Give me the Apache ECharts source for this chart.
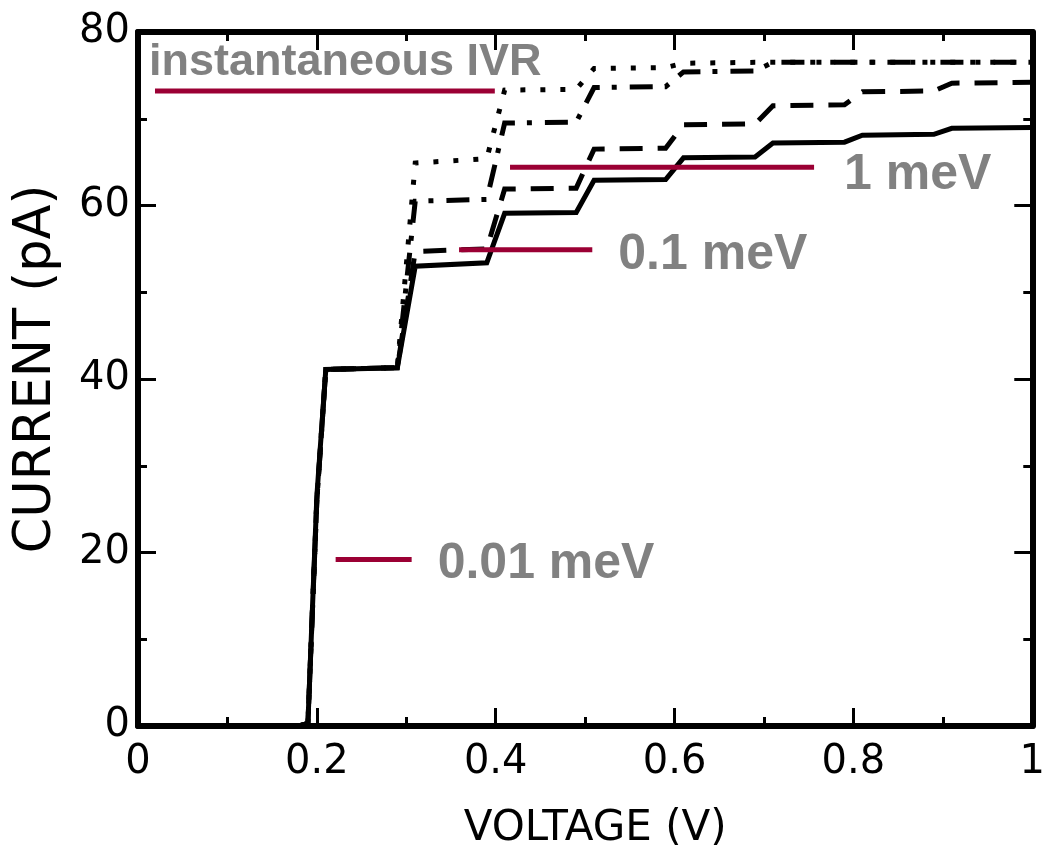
<!DOCTYPE html>
<html>
<head>
<meta charset="utf-8">
<script src="https://cdn.jsdelivr.net/npm/echarts@6/dist/echarts.min.js"></script>
<style>
html,body{margin:0;padding:0;background:#fff;overflow:hidden;}
#chart{width:1048px;height:855px;}
</style>
</head>
<body>
<div id="chart"></div>
<script>
// ---- data ----
const voltage = [0, 0.18, 0.19, 0.20, 0.21, 0.29, 0.31, 0.39, 0.41, 0.49, 0.51, 0.59, 0.61, 0.69, 0.71, 0.79, 0.81, 0.89, 0.91, 1.00];
const current001meV = [0, 0, 0.3, 26.5, 41.1, 41.3, 53.0, 53.4, 59.1, 59.2, 62.9, 63.0, 65.5, 65.6, 67.2, 67.3, 68.1, 68.2, 68.9, 69.0];
const current01meV  = [0, 0, 0.3, 26.0, 41.1, 41.3, 54.7, 55.0, 61.9, 62.0, 66.5, 66.6, 69.3, 69.4, 71.5, 71.6, 73.1, 73.2, 74.1, 74.2];
const current1meV   = [0, 0, 0.3, 26.0, 41.1, 41.3, 60.5, 60.7, 69.5, 69.6, 73.6, 73.7, 75.4, 75.5, 76.5, 76.5, 76.5, 76.5, 76.5, 76.5];
const currentIVR    = [0, 0, 0.3, 26.0, 41.1, 41.3, 64.9, 65.4, 73.3, 73.4, 75.8, 75.9, 76.4, 76.5, 76.5, 76.5, 76.5, 76.5, 76.5, 76.5];

const annotLabels = ['instantaneous IVR', '1 meV', '0.1 meV', '0.01 meV'];
const annotXStart = [0.019, 0.416, 0.359, 0.221];
const annotXEnd   = [0.399, 0.756, 0.508, 0.306];
const annotY      = [73.2, 64.4, 54.9, 19.2];

const xTicks = [0, 0.2, 0.4, 0.6, 0.8, 1];
const yTicks = [0, 20, 40, 60, 80];

// ---- chart ----
const pair = (xs, ys) => xs.map((x, i) => [x, ys[i]]);
const BLACK = '#000';
const RED = '#9b0034';
const GREY = '#616161';
const W = 5;

const curves = [
  { name: '0.01 meV', y: current001meV, type: 'solid' },
  { name: '0.1 meV', y: current01meV, type: [23, 15] },
  { name: '1 meV', y: current1meV, type: [23, 12, 5, 13] },
  { name: 'instantaneous IVR', y: currentIVR, type: [5, 15] }
];

const series = curves.map(c => ({
  name: c.name,
  type: 'line',
  xAxisIndex: 0, yAxisIndex: 0,
  data: pair(voltage, c.y),
  symbol: 'none',
  lineStyle: { color: BLACK, width: W, type: c.type, join: 'miter' },
  z: 3,
  animation: false
}));

annotLabels.forEach((lab, i) => {
  series.push({
    type: 'line',
    data: [[annotXStart[i], annotY[i]], [annotXEnd[i], annotY[i]]],
    symbol: 'none',
    lineStyle: { color: RED, width: 5 },
    z: 5,
    animation: false
  });
  const isTop = i === 0;
  series.push({
    type: 'scatter',
    data: [[isTop ? annotXStart[i] : annotXEnd[i], annotY[i]]],
    symbolSize: 0,
    itemStyle: { color: 'transparent' },
    label: {
      show: true,
      formatter: lab,
      position: 'right',
      distance: isTop ? 0 : (i === 1 ? 30 : 26),
      offset: isTop ? [-6, -28] : [0, i === 1 ? 8 : 5],
      color: GREY,
      fontFamily: 'Liberation Sans, Arial, sans-serif',
      fontWeight: 'bold',
      fontSize: isTop ? 45 : 50
    },
    z: 6,
    silent: true,
    animation: false
  });
});

const tickStyle = { show: true, inside: true, length: 18, lineStyle: { color: BLACK, width: 3 } };
const minorStyle = { show: true, splitNumber: 2, length: 9, lineStyle: { color: BLACK, width: 3 } };
const lineStyle = { show: true, onZero: false, lineStyle: { color: BLACK, width: 6 } };
const tickFont = { color: BLACK, fontFamily: 'DejaVu Sans', fontSize: 40 };

const option = {
  backgroundColor: '#fff',
  animation: false,
  grid: { left: 138, right: 10, top: 32, bottom: 128, containLabel: false },
  xAxis: [
    {
      type: 'value', position: 'bottom', min: xTicks[0], max: xTicks[xTicks.length - 1], interval: 0.2,
      axisLine: lineStyle, axisTick: tickStyle, minorTick: minorStyle,
      splitLine: { show: false },
      axisLabel: Object.assign({ margin: 17 }, tickFont),
      name: 'VOLTAGE (V)', nameLocation: 'middle', nameGap: 82,
      nameTextStyle: { color: BLACK, fontFamily: 'DejaVu Sans', fontSize: 42, padding: [0, 0, 0, 20] }
    },
    {
      type: 'value', position: 'top', min: 0, max: 1, interval: 0.2,
      axisLine: lineStyle, axisTick: tickStyle, minorTick: minorStyle,
      splitLine: { show: false }, axisLabel: { show: false }
    }
  ],
  yAxis: [
    {
      type: 'value', position: 'left', min: yTicks[0], max: yTicks[yTicks.length - 1], interval: 20,
      axisLine: lineStyle, axisTick: tickStyle, minorTick: minorStyle,
      splitLine: { show: false },
      axisLabel: Object.assign({ margin: 8 }, tickFont),
      name: 'CURRENT (pA)', nameLocation: 'middle', nameGap: 76,
      nameTextStyle: { color: BLACK, fontFamily: 'DejaVu Sans', fontSize: 51, padding: [0, 0, 0, 20] }
    },
    {
      type: 'value', position: 'right', min: 0, max: 80, interval: 20,
      axisLine: lineStyle, axisTick: tickStyle, minorTick: minorStyle,
      splitLine: { show: false }, axisLabel: { show: false }
    }
  ],
  series: series
};

const chart = echarts.init(document.getElementById('chart'), null, { renderer: 'canvas' });
chart.setOption(option);
</script>
</body>
</html>
